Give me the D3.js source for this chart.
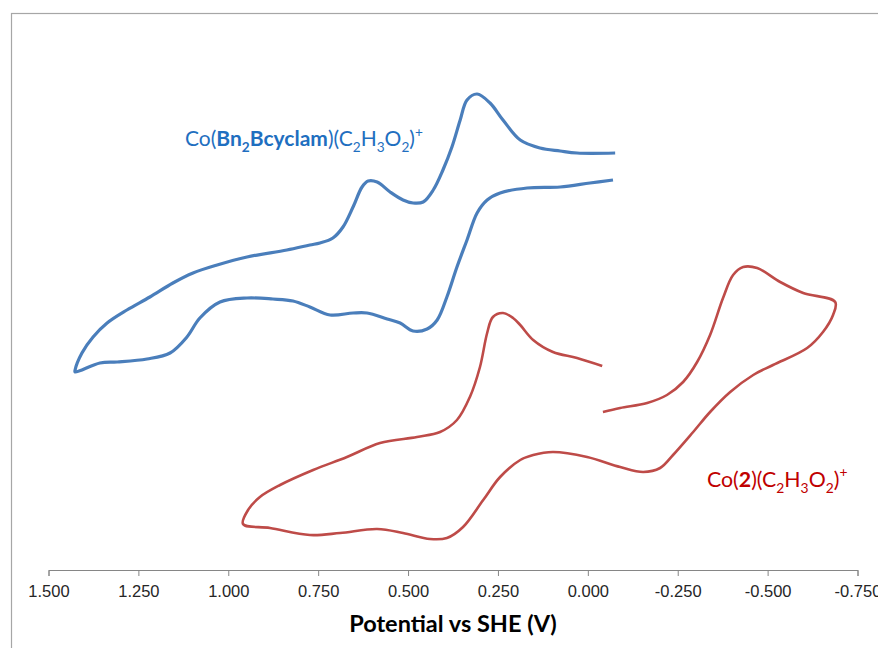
<!DOCTYPE html>
<html>
<head>
<meta charset="utf-8">
<script src="https://cdn.jsdelivr.net/npm/d3@7"></script>
<style>
  body { margin: 0; background: #fff; }
  svg { display: block; font-family: Lato, "Open Sans", sans-serif; }
</style>
</head>
<body>
<svg id="chart" width="878" height="648"></svg>
<script>
// CV traces: [potential (V vs SHE), current (arb. units)]
const bnCyclam = [
  [-0.076,41.7],[0.030,41.7],[0.077,41.9],[0.133,42.2],[0.188,43.0],[0.236,45.0],
  [0.272,46.7],[0.308,47.6],[0.336,47.0],[0.355,45.0],[0.378,42.3],[0.403,40.0],
  [0.430,38.0],[0.458,36.8],[0.486,36.7],[0.514,37.0],[0.550,37.8],[0.586,38.8],
  [0.611,38.9],[0.628,38.3],[0.653,36.3],[0.681,34.3],[0.709,33.2],[0.745,32.7],
  [0.773,32.5],[0.837,32.0],[0.948,31.3],[1.031,30.5],[1.098,29.7],[1.154,28.7],
  [1.218,27.3],[1.282,26.0],[1.337,24.7],[1.376,23.3],[1.407,21.7],[1.426,20.0],
  [1.426,19.8],[1.357,20.7],[1.309,20.8],[1.226,21.1],[1.162,21.7],[1.115,23.3],
  [1.079,25.2],[1.023,26.8],[0.948,27.2],[0.876,27.1],[0.820,26.9],[0.773,26.3],
  [0.717,25.5],[0.653,25.7],[0.614,25.7],[0.558,25.1],[0.522,24.7],[0.486,23.9],
  [0.447,24.1],[0.419,25.0],[0.392,27.3],[0.364,30.3],[0.336,33.0],[0.308,35.7],
  [0.280,37.0],[0.244,37.7],[0.169,38.2],[0.077,38.3],[-0.006,38.7],[-0.070,39.0]
];

const coTwo = [
  [-0.042,15.8],[-0.090,16.2],[-0.165,16.7],[-0.220,17.5],[-0.265,18.8],[-0.304,20.8],
  [-0.340,23.5],[-0.376,27.2],[-0.404,29.5],[-0.432,30.3],[-0.471,30.2],[-0.535,28.8],
  [-0.599,27.7],[-0.688,26.8],[-0.682,25.5],[-0.654,23.8],[-0.610,22.2],[-0.515,20.5],
  [-0.460,19.5],[-0.396,17.8],[-0.340,15.8],[-0.293,13.8],[-0.237,11.5],[-0.201,10.2],
  [-0.154,9.8],[-0.090,10.3],[0.002,11.3],[0.097,11.8],[0.152,11.5],[0.188,11.0],
  [0.244,9.3],[0.291,7.0],[0.347,4.3],[0.392,3.2],[0.439,3.1],[0.514,3.7],
  [0.586,4.1],[0.689,3.7],[0.773,3.5],[0.884,4.2],[0.959,4.6],[0.945,6.0],
  [0.912,7.3],[0.856,8.5],[0.764,10.0],[0.670,11.3],[0.578,12.7],[0.475,13.3],
  [0.411,13.8],[0.364,15.0],[0.328,17.3],[0.300,20.3],[0.280,23.7],[0.264,25.3],
  [0.236,25.7],[0.208,25.2],[0.188,24.5],[0.152,23.0],[0.097,21.8],[0.030,21.2],
  [-0.040,20.4]
];

const xTicks = [1.5, 1.25, 1.0, 0.75, 0.5, 0.25, 0.0, -0.25, -0.5, -0.75];
const xTitle = "Potential vs SHE (V)";

// label pieces: text, bold, sub/sup
const bnLabel = [
  {t:"Co("}, {t:"Bn", b:1}, {t:"2", b:1, sub:1}, {t:"Bcyclam", b:1}, {t:")(C"},
  {t:"2", sub:1}, {t:"H"}, {t:"3", sub:1}, {t:"O"}, {t:"2", sub:1}, {t:")"}, {t:"+", sup:1}
];
const coLabel = [
  {t:"Co("}, {t:"2", b:1}, {t:")(C"}, {t:"2", sub:1}, {t:"H"}, {t:"3", sub:1},
  {t:"O"}, {t:"2", sub:1}, {t:")"}, {t:"+", sup:1}
];

const svg = d3.select("#chart");

// outer chart frame (runs off the right/bottom edge)
svg.append("rect")
  .attr("x", 11.5).attr("y", 13.5)
  .attr("width", 900).attr("height", 700)
  .attr("fill", "none").attr("stroke", "#a6a6a6").attr("stroke-width", 1.2);

const x = d3.scaleLinear().domain([1.5, -0.75]).range([48.5, 857.5]);
const y = d3.scaleLinear().domain([0, 55.7]).range([570, 13]);

const axis = svg.append("g")
  .attr("transform", "translate(0,570)")
  .call(d3.axisBottom(x).tickValues(xTicks).tickSize(6).tickPadding(9)
    .tickFormat(d => d.toFixed(3)));
axis.select(".domain").attr("stroke", "#868686");
axis.selectAll(".tick line").attr("stroke", "#868686");
axis.selectAll(".tick text")
  .attr("fill", "#262626")
  .style("font-size", "16.5px");

svg.append("text")
  .attr("x", 453).attr("y", 632)
  .attr("text-anchor", "middle")
  .style("font-size", "23.5px").style("font-weight", "bold")
  .attr("fill", "#000")
  .text(xTitle);

const line = d3.line()
  .x(d => x(d[0]))
  .y(d => y(d[1]))
  .curve(d3.curveCatmullRom.alpha(0.5));

svg.append("path").datum(bnCyclam)
  .attr("d", line)
  .attr("fill", "none").attr("stroke", "#4a7ebb")
  .attr("stroke-width", 3.2).attr("stroke-linejoin", "round");

svg.append("path").datum(coTwo)
  .attr("d", line)
  .attr("fill", "none").attr("stroke", "#be4b48")
  .attr("stroke-width", 2.6).attr("stroke-linejoin", "round");

function richLabel(parts, px, py, color, size) {
  const t = svg.append("text").attr("x", px).attr("y", py)
    .attr("fill", color).style("font-size", size + "px");
  let shift = 0;
  parts.forEach(p => {
    let want = p.sub ? 0.3 : (p.sup ? -0.45 : 0);
    t.append("tspan")
      .attr("dy", ((want - shift) * size) + "px")
      .style("font-size", (p.sub || p.sup ? size * 0.65 : size) + "px")
      .style("font-weight", p.b ? "bold" : "normal")
      .text(p.t);
    shift = want;
  });
}

richLabel(bnLabel, 185, 146, "#1f6fc0", 21);
richLabel(coLabel, 707, 487, "#c00000", 21.3);
</script>
</body>
</html>
